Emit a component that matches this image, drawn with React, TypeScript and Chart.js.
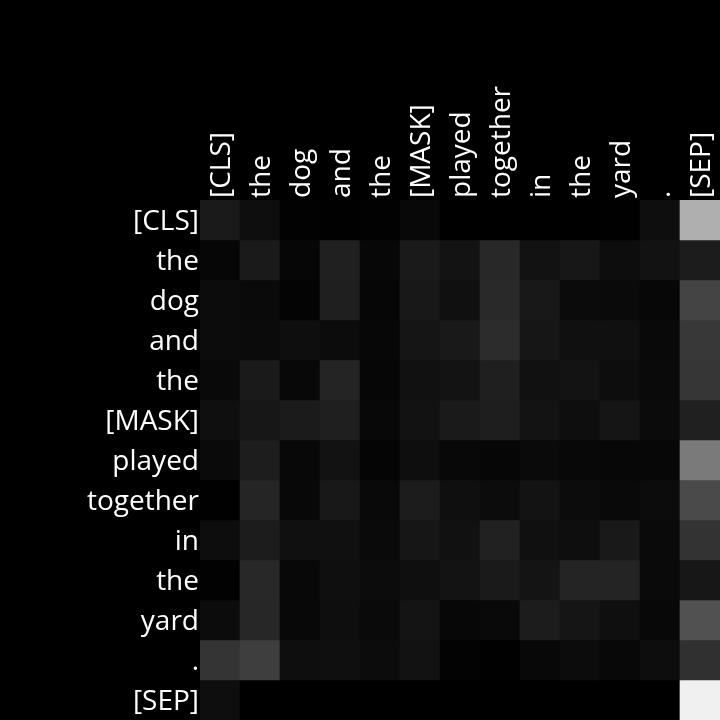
import React, { useEffect, useRef } from "react";
import { Chart, registerables } from "chart.js";

Chart.register(...registerables);

const tokens = ["[CLS]", "the", "dog", "and", "the", "[MASK]", "played", "together", "in", "the", "yard", ".", "[SEP]"];

const rowCLS = [0.102, 0.055, 0.008, 0.004, 0.008, 0.031, 0, 0, 0, 0, 0.004, 0.055, 0.686];
const rowThe1 = [0.024, 0.102, 0.024, 0.125, 0.027, 0.102, 0.075, 0.157, 0.071, 0.09, 0.051, 0.071, 0.11];
const rowDog = [0.047, 0.039, 0.016, 0.122, 0.024, 0.094, 0.063, 0.161, 0.094, 0.043, 0.039, 0.027, 0.267];
const rowAnd = [0.047, 0.043, 0.055, 0.047, 0.027, 0.082, 0.098, 0.173, 0.086, 0.063, 0.063, 0.035, 0.22];
const rowThe2 = [0.035, 0.102, 0.031, 0.141, 0.024, 0.067, 0.075, 0.122, 0.067, 0.075, 0.051, 0.039, 0.212];
const rowMask = [0.059, 0.09, 0.106, 0.122, 0.031, 0.071, 0.102, 0.118, 0.075, 0.055, 0.082, 0.043, 0.125];
const rowPlayed = [0.039, 0.114, 0.031, 0.071, 0.02, 0.055, 0.031, 0.024, 0.039, 0.031, 0.027, 0.027, 0.478];
const rowTogether = [0.004, 0.145, 0.031, 0.094, 0.035, 0.11, 0.059, 0.047, 0.075, 0.047, 0.035, 0.047, 0.29];
const rowIn = [0.051, 0.11, 0.063, 0.063, 0.039, 0.086, 0.067, 0.129, 0.063, 0.055, 0.098, 0.039, 0.2];
const rowThe3 = [0.008, 0.157, 0.031, 0.059, 0.047, 0.059, 0.075, 0.102, 0.078, 0.141, 0.141, 0.039, 0.09];
const rowYard = [0.047, 0.153, 0.031, 0.055, 0.039, 0.078, 0.027, 0.035, 0.11, 0.082, 0.059, 0.031, 0.318];
const rowDot = [0.204, 0.243, 0.055, 0.059, 0.047, 0.071, 0.012, 0.004, 0.031, 0.047, 0.031, 0.051, 0.188];
const rowSEP = [0.055, 0, 0, 0, 0, 0, 0, 0, 0, 0, 0, 0, 0.941];

const attention = [rowCLS, rowThe1, rowDog, rowAnd, rowThe2, rowMask, rowPlayed, rowTogether, rowIn, rowThe3, rowYard, rowDot, rowSEP];

const gray = (v: number) => {
  const g = Math.round(Math.max(0, Math.min(1, v)) * 255);
  return `rgb(${g},${g},${g})`;
};

export default function App() {
  const ref = useRef<HTMLCanvasElement | null>(null);
  useEffect(() => {
    document.body.style.margin = "0";
    document.body.style.background = "#000";
    const canvas = ref.current;
    if (!canvas) return;
    const datasets = attention.map((row, i) => ({
      label: tokens[i],
      data: row.map(() => [i, i + 1]),
      backgroundColor: row.map(gray),
      borderWidth: 0,
      barPercentage: 1,
      categoryPercentage: 1,
      grouped: false,
    }));
    const font = { family: "'Open Sans'", size: 28 };
    const chart = new Chart(canvas, {
      type: "bar",
      data: { labels: tokens, datasets: datasets as any },
      options: {
        responsive: false,
        maintainAspectRatio: false,
        animation: false,
        devicePixelRatio: 1,
        events: [],
        layout: { padding: 0 },
        plugins: { legend: { display: false }, tooltip: { enabled: false } },
        scales: {
          x: {
            type: "category",
            position: "top",
            grid: { display: false, drawTicks: false },
            border: { display: false },
            ticks: {
              color: "#ffffff",
              font,
              autoSkip: false,
              minRotation: 90,
              maxRotation: 90,
              padding: 2,
              labelOffset: 36,
            },
            afterFit: (s: any) => {
              s.height = 200;
              s.paddingLeft = 0;
              s.paddingRight = 0;
              s.paddingTop = 0;
              s.paddingBottom = 0;
            },
          },
          y: {
            type: "linear",
            min: 0,
            max: tokens.length,
            reverse: true,
            grid: { display: false, drawTicks: false },
            border: { display: false },
            afterBuildTicks: (s: any) => {
              s.ticks = tokens.map((_, i) => ({ value: i + 0.5 }));
            },
            ticks: {
              color: "#ffffff",
              font,
              autoSkip: false,
              padding: 1,
              labelOffset: 2,
              callback: (v: any) => tokens[Math.floor(Number(v))] ?? "",
            },
            afterFit: (s: any) => {
              s.width = 200;
              s.paddingTop = 0;
              s.paddingBottom = 0;
              s.paddingLeft = 0;
              s.paddingRight = 0;
            },
          },
        },
      },
    });
    return () => chart.destroy();
  }, []);
  return (
    <div style={{ position: "fixed", left: 0, top: 0, width: 720, height: 720, background: "#000" }}>
      <canvas ref={ref} width={720} height={720} style={{ display: "block", width: 720, height: 720 }} />
    </div>
  );
}
